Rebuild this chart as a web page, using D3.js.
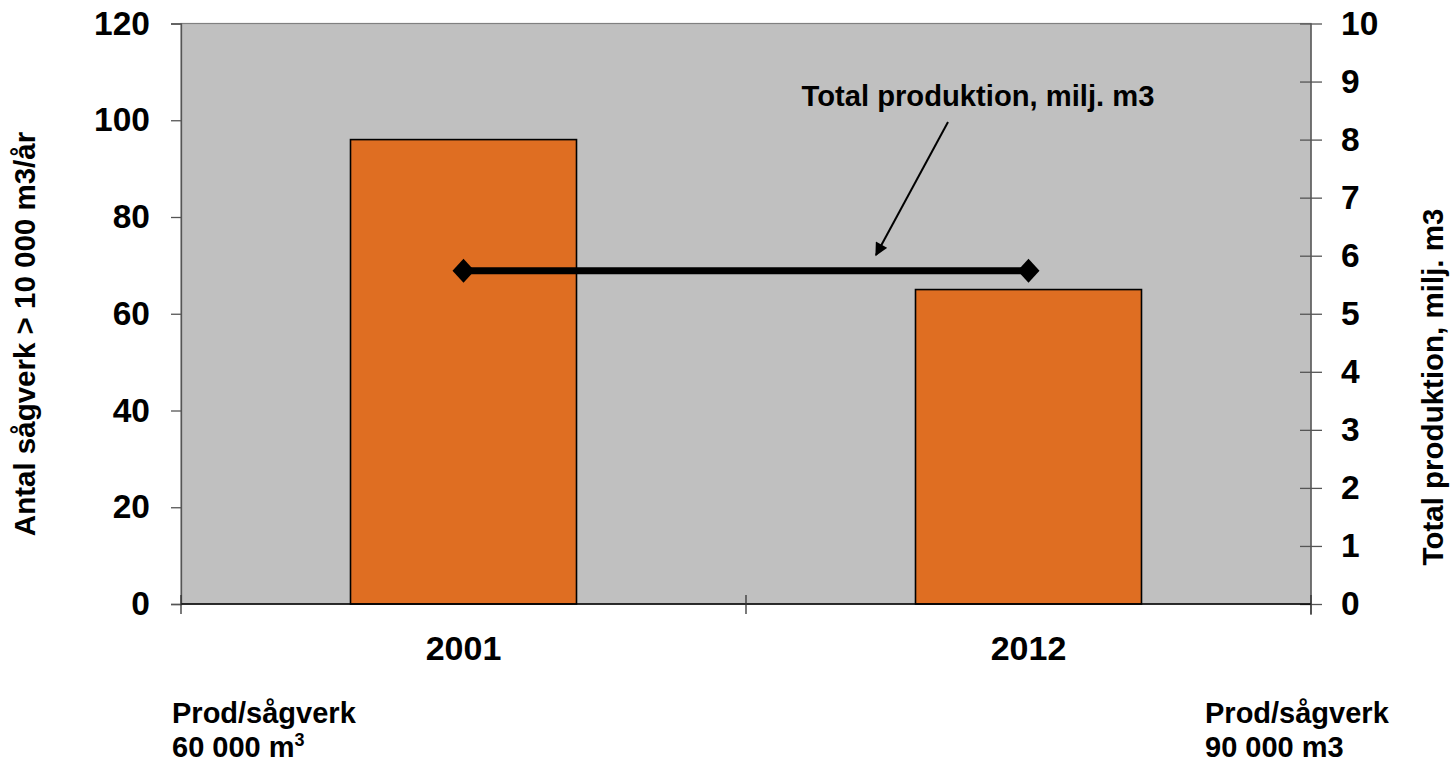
<!DOCTYPE html>
<html>
<head>
<meta charset="utf-8">
<script src="https://cdn.jsdelivr.net/npm/d3@7"></script>
<style>
  html, body { margin: 0; padding: 0; background: #fff; }
  svg { display: block; font-family: "Liberation Sans", Arial, sans-serif; font-weight: bold; }
</style>
</head>
<body>
<svg id="chart" width="1454" height="763"></svg>
<script>
const categories = ["2001", "2012"];
const antalSagverk = [96, 65];
const totalProduktion = [5.74, 5.74];
const leftTicks = [0, 20, 40, 60, 80, 100, 120];
const rightTicks = [0, 1, 2, 3, 4, 5, 6, 7, 8, 9, 10];
const leftTitle = "Antal sågverk > 10 000 m3/år";
const rightTitle = "Total produktion, milj. m3";
const annotation = "Total produktion, milj. m3";
const bottomLeft = ["Prod/sågverk", "60 000 m", "3"];
const bottomRight = ["Prod/sågverk", "90 000 m3"];

const svg = d3.select("#chart");
const L = 181, R = 1311, T = 23.5, B = 604;

const x = d3.scaleBand().domain(categories).range([L, R]).padding(0);
const yL = d3.scaleLinear().domain([0, 120]).range([B, T]);
const yR = d3.scaleLinear().domain([0, 10]).range([B, T]);
const barW = x.bandwidth() * 0.4;

// plot area
svg.append("rect").attr("x", L).attr("y", T).attr("width", R - L).attr("height", B - T)
  .attr("fill", "#c0c0c0").attr("stroke", "#808080").attr("stroke-width", 1.2);

// bars
svg.selectAll("rect.bar").data(categories).enter().append("rect")
  .attr("class", "bar")
  .attr("x", d => x(d) + x.bandwidth() / 2 - barW / 2)
  .attr("width", barW)
  .attr("y", (d, i) => yL(antalSagverk[i]))
  .attr("height", (d, i) => B - yL(antalSagverk[i]))
  .attr("fill", "#df6e22").attr("stroke", "#000").attr("stroke-width", 1.6);

// left axis
const gL = svg.append("g").attr("transform", `translate(${L},0)`)
  .call(d3.axisLeft(yL).tickValues(leftTicks).tickSize(10).tickPadding(21));
gL.select(".domain").attr("stroke", "#555").attr("stroke-width", 1.3);
gL.selectAll(".tick line").attr("stroke", "#555").attr("stroke-width", 1.3);
gL.selectAll(".tick text").attr("font-size", 33.5).attr("font-weight", "bold")
  .attr("font-family", "Liberation Sans, Arial, sans-serif").attr("fill", "#000");

// right axis
const gR = svg.append("g").attr("transform", `translate(${R},0)`)
  .call(d3.axisRight(yR).tickValues(rightTicks).tickSize(11).tickPadding(19));
gR.select(".domain").attr("stroke", "#555").attr("stroke-width", 1.3)
  .attr("d", `M0,${T}V${B + 11}`);
gR.selectAll(".tick line").attr("stroke", "#555").attr("stroke-width", 1.3).attr("x1", -11);
gR.selectAll(".tick text").attr("font-size", 33.5).attr("font-weight", "bold")
  .attr("font-family", "Liberation Sans, Arial, sans-serif").attr("fill", "#000");

// bottom axis
const gB = svg.append("g").attr("transform", `translate(0,${B})`);
gB.append("line").attr("x1", L).attr("x2", R).attr("y1", 0).attr("y2", 0)
  .attr("stroke", "#000").attr("stroke-width", 1.6);
const boundaries = [L, ...categories.slice(1).map(c => x(c)), R];
gB.selectAll("line.tk").data(boundaries).enter().append("line")
  .attr("class", "tk")
  .attr("x1", d => d).attr("x2", d => d).attr("y1", -9).attr("y2", 10)
  .attr("stroke", "#333").attr("stroke-width", 1.3);
gB.selectAll("text.cat").data(categories).enter().append("text")
  .attr("class", "cat")
  .attr("x", d => x(d) + x.bandwidth() / 2).attr("y", 56)
  .attr("text-anchor", "middle").attr("font-size", 34).attr("fill", "#000")
  .text(d => d);

// line series
const pts = categories.map((c, i) => [x(c) + x.bandwidth() / 2, yR(totalProduktion[i])]);
svg.append("path").attr("d", d3.line()(pts))
  .attr("fill", "none").attr("stroke", "#000").attr("stroke-width", 7);
svg.selectAll("path.mk").data(pts).enter().append("path")
  .attr("class", "mk")
  .attr("transform", d => `translate(${d[0]},${d[1]})`)
  .attr("d", "M0,-12L11,0L0,12L-11,0Z").attr("fill", "#000");

// annotation with arrow
svg.append("defs").append("marker").attr("id", "arr")
  .attr("viewBox", "0 0 10 10").attr("refX", 9).attr("refY", 5)
  .attr("markerWidth", 7.5).attr("markerHeight", 6.5).attr("orient", "auto")
  .attr("markerUnits", "strokeWidth")
  .append("path").attr("d", "M0,0L10,5L0,10Z").attr("fill", "#000");
svg.append("text").attr("x", 978).attr("y", 106).attr("text-anchor", "middle")
  .attr("font-size", 29.2).attr("fill", "#000").text(annotation);
svg.append("line").attr("x1", 948).attr("y1", 122).attr("x2", 876).attr("y2", 255)
  .attr("stroke", "#000").attr("stroke-width", 2).attr("marker-end", "url(#arr)");

// axis titles
svg.append("text").attr("transform", "translate(35,334) rotate(-90)")
  .attr("text-anchor", "middle").attr("font-size", 29.5).attr("fill", "#000").text(leftTitle);
svg.append("text").attr("transform", "translate(1443,387) rotate(-90)")
  .attr("text-anchor", "middle").attr("font-size", 29.5).attr("fill", "#000").text(rightTitle);

// bottom notes
const bl = svg.append("text").attr("x", 172).attr("y", 723).attr("font-size", 29).attr("fill", "#000");
bl.text(bottomLeft[0]);
const bl2 = svg.append("text").attr("x", 172).attr("y", 757).attr("font-size", 29).attr("fill", "#000");
bl2.append("tspan").text(bottomLeft[1]);
bl2.append("tspan").attr("font-size", 18).attr("dy", -11).text(bottomLeft[2]);
svg.append("text").attr("x", 1205).attr("y", 723).attr("font-size", 29).attr("fill", "#000").text(bottomRight[0]);
svg.append("text").attr("x", 1205).attr("y", 757).attr("font-size", 29).attr("fill", "#000").text(bottomRight[1]);
</script>
</body>
</html>
